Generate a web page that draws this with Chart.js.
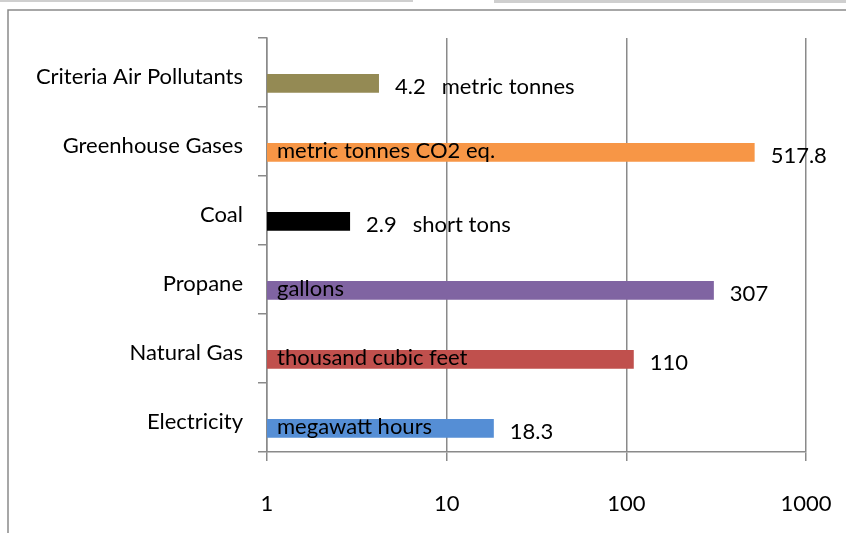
<!DOCTYPE html>
<html><head><meta charset="utf-8">
<script src="https://cdn.jsdelivr.net/npm/chart.js@4/dist/chart.umd.min.js"></script>
<style>
html,body{margin:0;padding:0;background:#fff;}
#wrap{position:relative;width:846px;height:533px;}
canvas{display:block;}
</style></head><body>
<div id="wrap"><canvas id="c" width="846" height="533"></canvas></div>
<script>
const categories = ["Criteria Air Pollutants", "Greenhouse Gases", "Coal", "Propane", "Natural Gas", "Electricity"];
const values = [4.2, 517.8, 2.9, 307, 110, 18.3];
const units = ["metric tonnes", "metric tonnes CO2 eq.", "short tons", "gallons", "thousand cubic feet", "megawatt hours"];
const barColors = ["#948A54", "#F79646", "#000000", "#8064A2", "#C0504D", "#558ED5"];
const spacer = [null, null, null, null, null, null];
const xTicks = [1, 10, 100, 1000];

const FONT = "Lato, 'Open Sans', sans-serif";
const FS = 22;
const GRID = "#8a8a8a";

const framePlugin = {
  id: "frame",
  beforeDraw(chart) {
    const ctx = chart.ctx;
    ctx.save();
    ctx.fillStyle = "#fff";
    ctx.fillRect(0, 0, chart.width, chart.height);
    ctx.fillStyle = "#cfcfcf";
    ctx.fillRect(0, 0, 413, 2);
    ctx.fillRect(494, 0, 352, 3);
    ctx.strokeStyle = "#8a8a8a";
    ctx.lineWidth = 1.5;
    ctx.beginPath();
    ctx.moveTo(8, chart.height);
    ctx.lineTo(8, 10);
    ctx.lineTo(chart.width, 10);
    ctx.stroke();
    ctx.restore();
  }
};

const labelPlugin = {
  id: "barLabels",
  afterDatasetsDraw(chart) {
    const ctx = chart.ctx;
    const meta = chart.getDatasetMeta(1);
    const base = chart.scales.x.getPixelForValue(1);
    ctx.save();
    ctx.font = FS + "px " + FONT;
    ctx.fillStyle = "#000";
    ctx.textBaseline = "alphabetic";
    ctx.textAlign = "left";
    meta.data.forEach((bar, i) => {
      const end = bar.x, cy = bar.y;
      const valText = String(values[i]);
      const unit = units[i];
      const uw = ctx.measureText(unit).width;
      const vx = end + 16;
      ctx.fillText(valText, vx, cy + 11);
      if (end - base > uw + 20) {
        ctx.fillText(unit, base + 10, cy + 6);
      } else {
        ctx.fillText(unit, vx + ctx.measureText(valText).width + 16, cy + 11);
      }
    });
    ctx.restore();
  }
};

new Chart(document.getElementById("c"), {
  type: "bar",
  data: {
    labels: categories,
    datasets: [
      { label: "spacer", data: spacer, backgroundColor: "rgba(0,0,0,0)" },
      { label: "values", data: values, backgroundColor: barColors }
    ]
  },
  options: {
    indexAxis: "y",
    responsive: false,
    animation: false,
    devicePixelRatio: 1,
    categoryPercentage: 0.625,
    barPercentage: 0.87,
    layout: { padding: { top: 38, right: 40, left: 0, bottom: 0 } },
    plugins: { legend: { display: false }, tooltip: { enabled: false } },
    scales: {
      x: {
        type: "logarithmic",
        position: "bottom",
        min: 1,
        max: 1000,
        afterBuildTicks: s => { s.ticks = xTicks.map(v => ({ value: v })); },
        afterFit: s => { s.height = 81; s.paddingRight = 0; s.paddingLeft = 0; },
        ticks: {
          autoSkip: false, maxRotation: 0, color: "#000",
          font: { family: FONT, size: FS },
          padding: 30,
          callback: v => String(v)
        },
        grid: { color: GRID, lineWidth: 1.5, tickLength: 9, drawTicks: true },
        border: { display: true, color: GRID, width: 1.5 }
      },
      y: {
        type: "category",
        afterFit: s => { s.width = 267; },
        ticks: {
          color: "#000",
          font: { family: FONT, size: FS },
          padding: 15,
          labelOffset: 4
        },
        grid: { offset: true, drawOnChartArea: false, tickLength: 9, color: GRID, lineWidth: 1.5 },
        border: { display: true, color: GRID, width: 1.5 }
      }
    }
  },
  plugins: [framePlugin, labelPlugin]
});
</script>
</body></html>
